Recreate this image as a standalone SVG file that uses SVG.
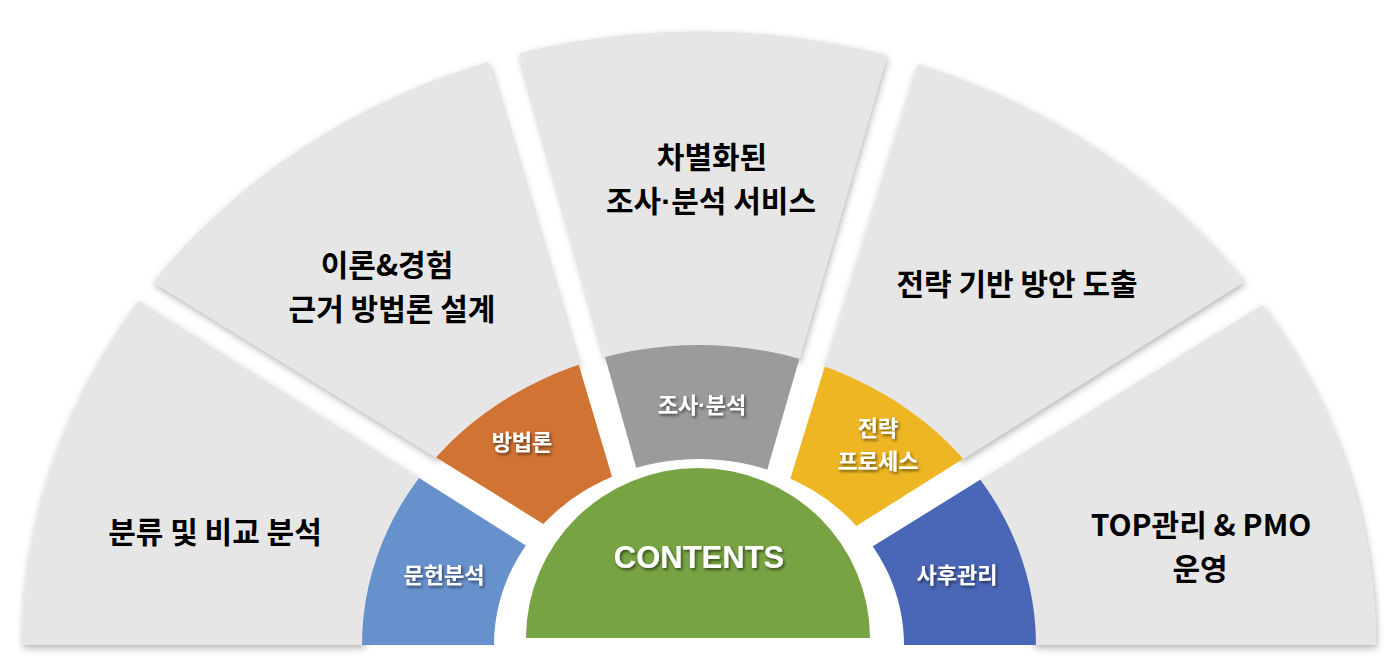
<svg xmlns="http://www.w3.org/2000/svg" width="1397" height="660" viewBox="0 0 1397 660">
<defs>
<filter id="sh" x="-10%" y="-10%" width="120%" height="125%">
<feDropShadow dx="1" dy="3" stdDeviation="3.5" flood-color="#000" flood-opacity="0.3"/>
</filter>
<filter id="ts" x="-20%" y="-30%" width="140%" height="160%">
<feDropShadow dx="1.5" dy="2" stdDeviation="1.5" flood-color="#000" flood-opacity="0.55"/>
</filter>
<path id="gray" d="M22 645 A677 614 0 0 1 1376 645 L1034 645 A335 298 0 0 0 364 645 Z"/>
<path id="ring" d="M362 645 A337 300 0 0 1 1036 645 L904 645 A205 186 0 0 0 494 645 Z"/>
<clipPath id="c1"><polygon points="-20,200.9 700,655.3 700,700 -20,700"/></clipPath>
<clipPath id="c2"><polygon points="644.8,586.9 -20,174.7 -20,-50 455.3,-50"/></clipPath>
<clipPath id="c3"><polygon points="701.2,698.5 490.4,-50 917.5,-50"/></clipPath>
<clipPath id="c4"><polygon points="756.5,588.9 952.7,-50 1420,-50 1420,171"/></clipPath>
<clipPath id="c5"><polygon points="1420,207 700,653.5 700,700 1420,700"/></clipPath>
</defs>
<style>
.g{fill:#E7E6E6}
.ol{font-family:"Noto Sans CJK KR","Noto Sans",sans-serif;font-weight:700;font-size:30px;fill:#000;text-anchor:middle}
.il{font-family:"Noto Sans CJK KR","Noto Sans",sans-serif;font-weight:700;font-size:22px;fill:#fff;text-anchor:middle;filter:url(#ts)}
.ct{font-family:"Liberation Sans",Arial,sans-serif;font-weight:700;font-size:31px;fill:#fff;text-anchor:middle;filter:url(#ts)}
.dot{font-family:"Liberation Sans",Arial,sans-serif}
</style>
<g id="outer-1"><g filter="url(#sh)"><use href="#gray" class="g" clip-path="url(#c1)"/></g></g>
<g id="outer-2"><g filter="url(#sh)"><use href="#gray" class="g" clip-path="url(#c2)"/></g></g>
<g id="outer-3"><g filter="url(#sh)"><use href="#gray" class="g" clip-path="url(#c3)"/></g></g>
<g id="outer-4"><g filter="url(#sh)"><use href="#gray" class="g" clip-path="url(#c4)"/></g></g>
<g id="outer-5"><g filter="url(#sh)"><use href="#gray" class="g" clip-path="url(#c5)"/></g></g>
<g id="inner-1"><use href="#ring" fill="#6791CD" clip-path="url(#c1)"/><text class="il" x="444" y="583">문헌분석</text></g>
<g id="inner-2"><use href="#ring" fill="#D17333" clip-path="url(#c2)"/><text class="il" x="522" y="450">방법론</text></g>
<g id="inner-3"><use href="#ring" fill="#9B9B9B" clip-path="url(#c3)"/><text class="il" x="702" y="413">조사<tspan class="dot">·</tspan>분석</text></g>
<g id="inner-4"><use href="#ring" fill="#EEB623" clip-path="url(#c4)"/><text class="il" x="878" y="436">전략<tspan x="878" y="469">프로세스</tspan></text></g>
<g id="inner-5"><use href="#ring" fill="#4A66B6" clip-path="url(#c5)"/><text class="il" x="957" y="583">사후관리</text></g>
<g id="center"><path d="M526 638 A172 170 0 0 1 870 638 Z" fill="#78A343"/><text class="ct" x="699" y="568">CONTENTS</text></g>
<g id="labels">
<text class="ol" x="215" y="542.5">분류 및 비교 분석</text>
<text class="ol" x="387" y="275.5">이론&amp;경험<tspan x="392" y="319.5">근거 방법론 설계</tspan></text>
<text class="ol" x="712" y="167.5">차별화된<tspan x="711" y="211.5">조사<tspan class="dot">·</tspan>분석 서비스</tspan></text>
<text class="ol" x="1017" y="294.5">전략 기반 방안 도출</text>
<text class="ol" x="1201" y="536">TOP관리 &amp; PMO<tspan x="1200" y="580">운영</tspan></text>
</g>
</svg>
